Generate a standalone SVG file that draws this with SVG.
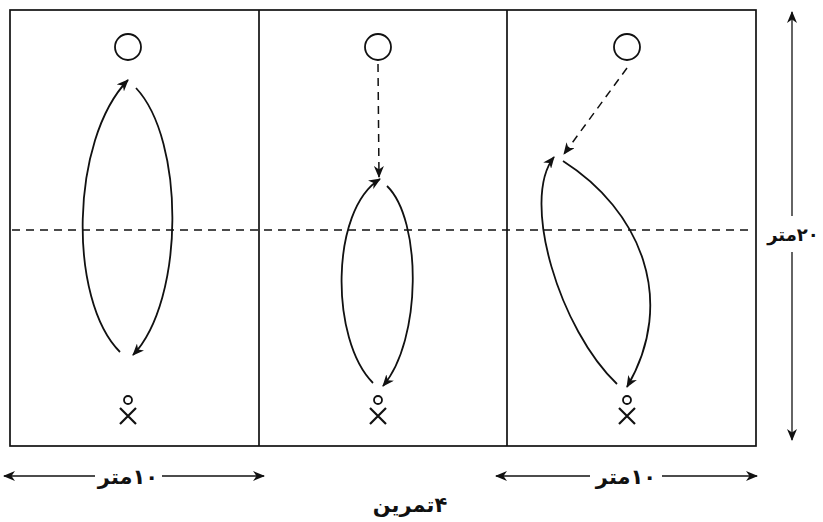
<svg xmlns="http://www.w3.org/2000/svg" width="823" height="522" viewBox="0 0 823 522">
<style>
.ln{fill:none;stroke:#111;stroke-width:1.8}
.bx{fill:none;stroke:#111;stroke-width:1.7}
.th{fill:none;stroke:#111;stroke-width:1.3}
.xm{fill:none;stroke:#111;stroke-width:2.2}
.ds{fill:none;stroke:#111;stroke-width:1.5;stroke-dasharray:8 6}
.lb{font-family:"DejaVu Sans",sans-serif;font-weight:bold;font-size:21px;fill:#111}
</style>
<defs>
<marker id="ah" viewBox="0 0 12 10" refX="11" refY="5" markerWidth="12" markerHeight="10" markerUnits="userSpaceOnUse" orient="auto">
<path d="M0,0 L12,5 L0,10 L3.5,5 Z" fill="#111"/>
</marker>
<marker id="ahs" viewBox="0 0 12 10" refX="11" refY="5" markerWidth="12" markerHeight="10" markerUnits="userSpaceOnUse" orient="auto-start-reverse">
<path d="M0,0 L12,5 L0,10 L3.5,5 Z" fill="#111"/>
</marker>
</defs>
<rect x="10" y="10" width="746" height="436" class="bx"/>
<line x1="259" y1="10" x2="259" y2="446" class="bx"/>
<line x1="507" y1="10" x2="507" y2="446" class="bx"/>
<line x1="12" y1="230" x2="754" y2="230" class="ds"/>
<g id="n1">
<circle cx="128" cy="47" r="13" class="ln"/>
<circle cx="128" cy="400" r="4" class="ln"/>
<path d="M120,408 L136,424 M136,408 L120,424" class="xm"/>
</g>
<g id="n2">
<circle cx="378" cy="47" r="13" class="ln"/>
<circle cx="378" cy="400" r="4" class="ln"/>
<path d="M370,408 L386,424 M386,408 L370,424" class="xm"/>
</g>
<g id="n3">
<circle cx="627" cy="47" r="13" class="ln"/>
<circle cx="627" cy="400" r="4" class="ln"/>
<path d="M619,408 L635,424 M635,408 L619,424" class="xm"/>
</g>
<g id="connectors">
<path d="M120,352 C68,300 70,140 128,80" class="ln" marker-end="url(#ah)"/>
<path d="M136,88 C185,140 185,300 133,355" class="ln" marker-end="url(#ah)"/>
<line x1="378" y1="64" x2="379" y2="177" class="ds" marker-end="url(#ah)"/>
<path d="M373,383 C330,340 330,210 380,179" class="ln" marker-end="url(#ah)"/>
<path d="M387,186 C422,220 422,340 383,386" class="ln" marker-end="url(#ah)"/>
<line x1="627" y1="68" x2="564" y2="154" class="ds" marker-end="url(#ah)"/>
<path d="M617,384 C560,330 520,200 554,157" class="ln" marker-end="url(#ah)"/>
<path d="M563,161 C640,210 678,300 627,387" class="ln" marker-end="url(#ah)"/>
<line x1="4" y1="476" x2="95" y2="476" class="th" marker-start="url(#ahs)"/>
<line x1="162" y1="476" x2="264" y2="476" class="th" marker-end="url(#ah)"/>
<line x1="496" y1="476" x2="590" y2="476" class="th" marker-start="url(#ahs)"/>
<line x1="662" y1="476" x2="757" y2="476" class="th" marker-end="url(#ah)"/>
<line x1="792" y1="12" x2="792" y2="216" class="th" marker-start="url(#ahs)"/>
<line x1="792" y1="252" x2="792" y2="440" class="th" marker-end="url(#ah)"/>
</g>
<text x="128" y="484" class="lb" text-anchor="middle" direction="rtl">۱۰متر</text>
<text x="626" y="484" class="lb" text-anchor="middle" direction="rtl">۱۰متر</text>
<text x="793" y="241" class="lb" text-anchor="middle" direction="rtl" style="font-size:18px">۲۰متر</text>
<text x="410" y="512" class="lb" text-anchor="middle" direction="rtl">۴تمرین</text>
</svg>
